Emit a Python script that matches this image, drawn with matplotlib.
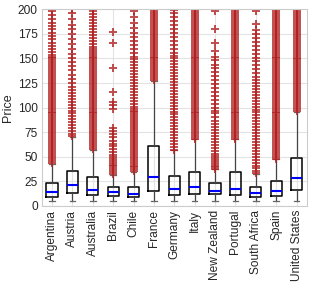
import matplotlib
matplotlib.use("Agg")
import matplotlib.pyplot as plt

plt.rcParams['font.family'] = ['Liberation Sans', 'DejaVu Sans']

countries = ["Argentina", "Austria", "Australia", "Brazil", "Chile", "France", "Germany",
             "Italy", "New Zealand", "Portugal", "South Africa", "Spain", "United States"]
q1 =     [9.2, 12.9, 11.2, 9.8, 8.5, 15.3, 11.2, 11.5, 11.9, 10.9, 8.5, 9.5, 16.0]
median = [13.9, 21.4, 16.3, 13.6, 12.2, 29.5, 17.3, 18.7, 15.3, 17.3, 12.9, 14.6, 28.2]
q3 =     [23.4, 35.7, 29.5, 18.7, 19.0, 60.8, 30.2, 34.0, 22.8, 34.0, 18.7, 24.8, 48.6]
whislo = [4.8, 4.8, 4.8, 4.8, 4.8, 4.8, 4.8, 4.8, 4.8, 4.8, 4.8, 4.8, 4.8]
whishi = [43.0, 70.0, 57.0, 31.0, 34.5, 127.0, 56.5, 67.5, 37.0, 67.5, 32.5, 47.5, 96.0]

fl_argentina = [44, 46, 48, 50, 52, 54, 56, 58, 60, 62, 64, 66, 68, 70, 72, 74, 76, 78, 80, 82,
                84, 86, 88, 90, 92, 94, 96, 98, 100, 102, 104, 106, 108, 110, 112, 114, 116, 118,
                120, 122, 124, 126, 128, 130, 132, 134, 136, 138, 140, 142, 144, 146, 148, 150,
                152, 154, 157, 160, 163, 166, 170, 173, 176, 180, 183, 186, 190, 194, 198]
fl_austria = [71, 73, 76, 79, 82, 85, 88, 91, 94, 97, 100, 103, 106, 109, 112, 115, 118, 121,
              125, 129, 133, 138, 142, 146, 150, 155, 160, 165, 170, 175, 180, 184, 190, 196, 200]
fl_australia = [58, 60, 62, 64, 66, 68, 70, 72, 74, 76, 78, 80, 82, 84, 86, 88, 90, 92, 94, 96,
                98, 100, 102, 104, 106, 108, 110, 112, 114, 116, 118, 120, 122, 124, 126, 128,
                130, 132, 134, 136, 138, 140, 142, 144, 146, 148, 150, 152, 154, 156, 158, 160,
                162, 165, 168, 171, 174, 177, 180, 183, 186, 189, 192, 195, 198, 200]
fl_brazil = [32, 34, 36, 38, 40, 42, 44, 46, 48, 50, 52, 55, 58, 61, 63, 66, 70, 73, 76, 79,
             99, 103, 106, 116, 140, 166, 177]
fl_chile = [35, 37, 39, 41, 43, 45, 47, 49, 51, 53, 55, 57, 59, 61, 63, 65, 67, 69, 71, 73, 75,
            77, 79, 81, 83, 85, 87, 89, 91, 93, 95, 97, 99, 101, 104, 107, 110, 113, 116, 119,
            122, 125, 128, 131, 134, 137, 140, 143, 146, 149, 152, 156, 160, 164, 168, 172,
            176, 181, 186, 192, 198]
fl_france = [128, 130, 132, 134, 136, 138, 140, 142, 144, 146, 148, 150, 152, 154, 156, 158,
             160, 162, 164, 166, 168, 170, 172, 174, 176, 178, 180, 182, 184, 186, 188, 190,
             192, 194, 196, 198, 200]
fl_germany = [57, 60, 63, 66, 69, 72, 75, 78, 81, 84, 87, 90, 93, 96, 99, 102, 105, 108, 111,
              114, 117, 120, 123, 126, 129, 132, 135, 138, 141, 144, 147, 150, 153, 156, 160,
              164, 168, 172, 176, 180, 184, 188, 192, 196, 199]
fl_italy = [68, 70, 72, 74, 76, 78, 80, 82, 84, 86, 88, 90, 92, 94, 96, 98, 100, 102, 104, 106,
            108, 110, 112, 114, 116, 118, 120, 122, 124, 126, 128, 130, 132, 134, 136, 138,
            140, 142, 144, 146, 148, 150, 152, 154, 156, 158, 160, 162, 164, 166, 168, 170,
            172, 174, 176, 178, 180, 182, 184, 186, 188, 190, 192, 194, 196, 198, 200]
fl_nz = [37, 39, 41, 43, 45, 47, 49, 51, 53, 56, 59, 62, 65, 68, 71, 74, 77, 80, 83, 86, 90, 94,
         97, 100, 104, 108, 112, 116, 120, 124, 128, 132, 136, 140, 143, 148, 152, 158, 166,
         180, 198]
fl_portugal = [68, 70, 72, 74, 76, 78, 80, 82, 84, 86, 88, 90, 92, 94, 96, 98, 100, 102, 104,
               106, 108, 110, 112, 114, 116, 118, 120, 122, 124, 126, 128, 130, 132, 134, 136,
               138, 140, 142, 144, 146, 148, 150, 152, 154, 156, 158, 160, 162, 164, 166, 168,
               170, 172, 174, 176, 178, 180, 182, 184, 186, 188, 190, 192, 194, 196, 198, 200]
fl_safrica = [33, 35, 38, 41, 44, 47, 50, 53, 56, 59, 62, 65, 68, 71, 74, 77, 80, 83, 86, 89,
              92, 95, 98, 101, 104, 107, 110, 113, 116, 119, 122, 125, 128, 131, 135, 139, 143,
              147, 151, 155, 159, 163, 167, 171, 175, 179, 185, 198]
fl_spain = [48, 50, 52, 54, 56, 58, 60, 62, 64, 66, 68, 70, 72, 74, 76, 78, 80, 82, 84, 86, 88,
            90, 92, 94, 96, 98, 100, 102, 104, 106, 108, 110, 112, 114, 116, 118, 120, 122, 124,
            126, 128, 130, 132, 134, 136, 138, 140, 142, 144, 146, 148, 150, 152, 154, 156, 158,
            160, 162, 164, 166, 168, 170, 172, 174, 176, 178, 180, 182, 184, 186, 188, 190,
            192, 194, 196, 198, 200]
fl_us = [97, 99, 101, 103, 105, 107, 109, 111, 113, 115, 117, 119, 121, 123, 125, 127, 129, 131,
         133, 135, 137, 139, 141, 143, 145, 147, 149, 151, 153, 155, 157, 159, 161, 163, 165,
         167, 169, 171, 173, 175, 177, 179, 181, 183, 185, 187, 189, 191, 193, 195, 197, 199]
fliers = [fl_argentina, fl_austria, fl_australia, fl_brazil, fl_chile, fl_france, fl_germany,
          fl_italy, fl_nz, fl_portugal, fl_safrica, fl_spain, fl_us]

stats = []
for i, c in enumerate(countries):
    stats.append(dict(label=c, q1=q1[i], med=median[i], q3=q3[i], whislo=whislo[i],
                      whishi=whishi[i], fliers=fliers[i]))

fig = plt.figure(figsize=(3.12, 2.85), dpi=100)
ax = fig.add_axes([0.134, 0.278, 0.849, 0.689])
ax.set_axisbelow(True)
ax.grid(True, color='#e3e3e3', linewidth=0.8)

ax.bxp(stats, widths=0.55, showfliers=True,
       boxprops=dict(color='black', linewidth=1.1),
       medianprops=dict(color='blue', linewidth=1.5),
       whiskerprops=dict(color='#444444', linewidth=0.9),
       capprops=dict(color='#666666', linewidth=0.9),
       flierprops=dict(marker='+', markeredgecolor='firebrick', markersize=5.5,
                       markeredgewidth=1.4, alpha=0.8, linestyle='none'))

ax.set_ylim(0, 200)
ax.set_xlim(0.5, len(countries) + 0.5)
ax.set_yticks([0, 25, 50, 75, 100, 125, 150, 175, 200])
ax.set_xticks(range(1, len(countries) + 1))
ax.set_xticklabels(countries, rotation=90)
ax.tick_params(axis='both', length=0, labelsize=8.6, colors='#262626', pad=3)
ax.set_ylabel('Price', fontsize=9, color='#262626', labelpad=3)
for s in ax.spines.values():
    s.set_color('#cccccc')
    s.set_linewidth(0.8)

fig.savefig('out.png', dpi=100)
